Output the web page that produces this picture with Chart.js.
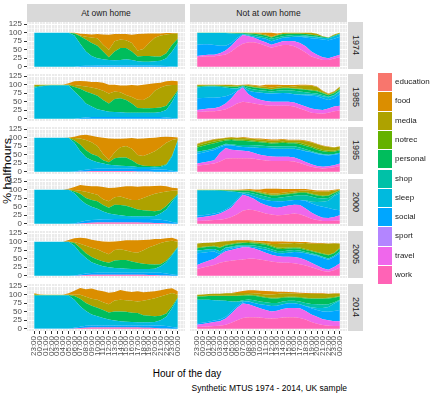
<!DOCTYPE html>
<html>
<head>
<meta charset="utf-8">
<script src="https://cdn.jsdelivr.net/npm/chart.js@4.4.0/dist/chart.umd.min.js"></script>
<style>
  body { margin: 0; background: #fff; }
  #wrap { position: relative; width: 430px; height: 393px; overflow: hidden;
          font-family: "Liberation Sans", Arial, sans-serif; color: #1A1A1A; background: #fff; }
  canvas { position: absolute; }
  .strip { position: absolute; background: #D9D9D9; font-size: 8.5px;
           display: flex; align-items: center; justify-content: center; }
  .vstrip { writing-mode: vertical-rl; font-size: 9px; }
  .key { position: absolute; left: 378px; width: 14px; }
  .keylab { position: absolute; left: 395px; font-size: 8px; line-height: 10px; }
  #ytitle { position: absolute; left: 8px; top: 171px; font-size: 12.5px;
            transform: translate(-50%, -50%) rotate(-90deg) scaleY(0.8); white-space: nowrap; color: #000; }
  #xtitle { position: absolute; left: 187px; top: 373px; font-size: 10px;
            transform: translate(-50%, -50%); white-space: nowrap; color: #000; }
  #caption { position: absolute; right: 83px; top: 383px; font-size: 8.5px; white-space: nowrap; color: #000; }
</style>
</head>
<body>
<div id="wrap">
  <div id="ytitle">% halfhours</div>
  <div id="xtitle">Hour of the day</div>
  <div id="caption">Synthetic MTUS 1974 - 2014, UK sample</div>
</div>
<script>
const categories = ['education', 'food', 'media', 'notrec', 'personal', 'shop', 'sleep', 'social', 'sport', 'travel', 'work'];
const colors = ['#F8766D', '#DB8E00', '#AEA200', '#64B200', '#00BD5C', '#00C1A7', '#00BADE', '#00A6FF', '#B385FF', '#EF67EB', '#FF63B6'];
const years = ['1974', '1985', '1995', '2000', '2005', '2014'];
const places = ['At own home', 'Not at own home'];
const hours = [0, 1, 2, 3, 4, 5, 6, 7, 8, 9, 10, 11, 12, 13, 14, 15, 16, 17, 18, 19, 20, 21, 22, 23, 24, 25];
const tickLabels = ['23:00', '00:00', '01:00', '02:00', '03:00', '04:00', '05:00', '06:00', '07:00', '08:00', '09:00',
  '10:00', '11:00', '12:00', '13:00', '14:00', '15:00', '16:00', '17:00', '18:00', '19:00', '20:00', '21:00',
  '22:00', '23:00', '00:00'];
const yTicks = [0, 25, 50, 75, 100, 125];

// at own home, one array per activity (hourly)
const home_1974 = {
  social:   [0,0,0,0,0,0,0,0,2,3,3,4,4,4,4,4,4,4,4,4,4,3,3,2,1,0],
  sleep:    [100,100,100,100,100,100,100,92,66,42,29,21,18,16,15,16,18,16,12,11,11,13,15,23,44,70],
  personal: [0,0,0,0,0,0,0,6,22,35,38,37,23,8,26,35,33,25,14,17,17,14,12,15,20,12],
  media:    [0,0,0,0,0,0,0,1,2,8,16,22,20,22,30,25,23,25,18,20,38,55,62,55,32,16],
  food:     [0,0,0,0,0,0,0,1,5,8,9,12,30,44,21,16,18,24,48,45,28,13,6,4,2,1]
};
const home_1985 = {
  social:   [0,0,0,0,0,0,0,0,2,4,5,5,5,5,5,5,5,5,5,5,5,5,5,4,2,1],
  sleep:    [91,95,97,98,98,98,98,80,62,41,31,23,19,16,15,14,13,13,13,13,13,13,15,22,48,79],
  personal: [3,2,1,1,1,1,1,13,24,35,38,40,31,24,38,41,37,27,14,13,13,14,13,12,10,4],
  media:    [6,3,2,1,1,1,1,6,9,15,18,20,27,29,22,18,15,19,24,24,34,50,59,60,39,15],
  food:     [0,0,0,0,0,0,4,11,14,15,16,20,24,26,20,20,28,35,42,45,37,22,14,12,13,11]
};
const home_1995 = {
  work:     [0,0,0,0,0,0,0,0,1,1,2,2,2,2,2,2,2,2,1,1,1,0,0,0,0,0],
  social:   [0,0,0,0,0,0,0,1,3,5,6,7,7,7,7,7,7,7,7,7,7,7,7,6,3,1],
  sleep:    [100,100,100,100,100,100,100,84,57,37,26,19,15,12,10,9,8,7,6,6,6,6,7,14,42,91],
  personal: [0,0,0,0,0,0,0,7,19,20,18,18,10,7,21,24,25,18,9,4,3,3,3,2,3,1],
  media:    [0,0,0,0,0,0,0,7,18,30,35,30,18,7,17,30,34,34,26,28,36,44,55,63,45,4],
  food:     [0,0,0,0,0,0,1,4,9,16,19,26,48,63,40,25,22,31,48,52,46,40,30,18,9,4]
};
const home_2000 = {
  work:     [0,0,0,0,0,0,0,0,1,2,3,4,4,4,4,4,4,4,4,3,3,2,2,1,0,0],
  social:   [0,0,0,0,0,0,0,1,4,7,8,8,9,9,10,10,10,10,10,11,11,11,10,9,5,2],
  sleep:    [100,100,100,100,100,100,100,89,66,49,39,32,23,17,13,11,9,8,8,8,8,10,18,32,60,83],
  personal: [0,0,0,0,0,0,0,5,17,18,20,22,19,17,29,30,30,26,20,18,16,14,10,10,5,3],
  media:    [0,0,0,0,0,0,0,4,9,18,20,19,17,19,22,25,22,22,28,36,44,51,52,43,27,10],
  food:     [0,0,0,0,0,0,3,9,17,18,20,25,36,39,28,28,35,40,39,34,28,23,20,15,9,6]
};
const home_2005 = {
  work:     [0,0,0,0,0,0,0,0,1,2,3,3,3,3,3,3,3,3,3,3,2,2,1,1,0,0],
  social:   [0,0,0,0,0,0,0,1,3,5,5,6,6,6,6,6,6,6,6,6,7,7,8,6,4,2],
  sleep:    [100,100,100,100,100,100,100,87,64,45,32,24,19,16,14,13,12,11,11,11,11,12,19,33,56,81],
  personal: [0,0,0,0,0,0,0,8,14,14,15,15,14,13,22,24,25,22,18,15,14,12,6,4,3,2],
  media:    [0,0,0,0,0,0,0,3,12,22,27,30,28,25,31,32,28,28,30,40,50,57,62,57,40,15],
  food:     [0,0,0,0,0,0,5,11,18,22,24,25,31,37,25,24,30,34,36,30,22,18,12,9,9,6]
};
const home_2014 = {
  work:     [0,0,0,0,0,0,0,1,2,3,4,4,4,4,4,4,4,4,4,3,3,2,1,1,0,0],
  social:   [1,1,1,1,1,1,1,2,4,6,6,6,6,6,6,6,6,6,6,7,7,8,9,7,5,3],
  sleep:    [96,97,97,97,97,97,97,82,60,43,32,27,22,17,14,12,11,10,9,9,9,10,15,27,55,87],
  personal: [2,1,1,1,1,1,1,11,22,24,26,25,23,21,27,29,29,27,27,21,19,17,13,10,6,2],
  media:    [3,1,1,1,1,1,1,4,12,18,20,23,23,24,32,34,34,35,34,42,48,53,57,55,39,8],
  food:     [2,1,0,0,0,0,4,12,20,22,30,28,32,34,25,29,26,26,30,25,23,20,18,17,14,10]
};

// not at own home
const away_1974 = {
  work:     [28,30,31,31,33,36,45,58,68,72,72,68,62,56,60,64,64,60,52,42,30,25,20,20,24,28],
  travel:   [4,4,4,4,7,12,17,22,25,18,13,10,10,9,10,11,12,15,18,18,15,10,8,5,6,7],
  social:   [33,32,31,29,22,14,8,5,2,2,3,7,10,10,10,10,11,13,18,26,39,47,52,53,52,53],
  sleep:    [34,33,33,35,37,37,28,12,2,0,0,0,0,0,0,0,0,0,1,3,4,5,5,6,8,8],
  shop:     [0,0,0,0,0,0,0,0,0,3,5,5,5,7,6,5,5,5,4,3,2,1,0,0,0,0],
  personal: [1,1,1,1,1,1,1,2,2,3,4,5,5,4,6,6,5,4,4,4,4,4,3,1,2,2],
  media:    [0,0,0,0,0,0,1,1,1,2,2,3,3,2,2,3,3,3,3,4,6,5,2,1,3,2],
  food:     [0,0,0,0,0,0,0,0,0,0,1,2,5,12,4,1,0,0,0,0,0,0,0,0,0,0]
};
const away_1985 = {
  work:     [20,21,22,22,24,28,35,45,50,48,45,42,40,38,38,38,38,36,30,24,18,16,15,18,22,24],
  travel:   [6,7,8,9,11,17,25,35,42,24,17,14,12,12,12,12,12,12,12,12,12,11,11,12,14,14],
  social:   [34,33,32,31,28,21,12,2,2,10,17,21,23,24,25,26,25,24,28,33,38,39,34,25,24,34],
  sleep:    [32,33,33,33,31,26,18,6,1,0,0,0,0,0,0,0,0,0,1,2,3,4,6,8,9,8],
  shop:     [0,0,0,0,0,0,0,2,1,8,7,7,7,6,7,8,9,10,9,7,5,4,4,2,1,2],
  personal: [3,2,2,2,2,3,4,4,2,5,6,6,6,6,6,6,6,6,7,7,7,7,5,4,5,5],
  notrec:   [1,1,1,1,1,1,1,1,0,1,1,1,1,1,1,1,1,1,2,2,2,2,2,1,2,2],
  media:    [3,2,1,1,2,3,4,3,1,3,4,4,5,5,5,5,5,6,8,10,12,10,4,3,3,5],
  food:     [1,1,1,1,1,1,1,1,1,2,2,2,6,8,6,3,3,4,3,3,2,2,1,1,1,1]
};
const away_1995 = {
  work:     [18,20,22,24,30,38,40,40,40,40,38,35,33,32,32,32,32,30,26,20,15,12,10,11,13,17],
  travel:   [6,7,8,10,25,32,25,23,22,20,17,15,14,13,12,12,12,12,10,9,7,5,5,5,6,7],
  social:   [29,29,30,30,17,8,13,12,11,12,16,20,23,24,24,24,24,26,29,31,35,35,34,32,31,29],
  sleep:    [6,6,5,5,4,3,1,0,0,0,0,0,0,0,0,0,0,0,0,1,1,2,2,2,2,3],
  shop:     [0,0,0,0,0,1,2,4,6,7,7,7,6,5,6,7,7,7,6,5,3,2,1,0,0,0],
  personal: [12,14,15,15,12,10,12,12,12,11,10,10,9,9,10,10,9,9,10,10,10,9,8,8,7,7],
  notrec:   [5,5,5,5,4,3,3,3,3,3,3,3,3,3,3,3,3,3,4,4,4,4,4,4,3,3],
  media:    [5,6,6,6,5,4,5,5,6,5,5,5,5,5,5,6,5,5,7,10,11,12,12,11,9,8],
  food:     [1,1,1,1,1,1,1,1,2,2,2,3,3,4,3,2,2,2,2,2,2,1,1,1,1,1]
};
const away_2000 = {
  work:     [8,9,10,11,12,15,20,28,38,42,40,35,30,27,25,26,28,30,28,22,15,11,8,8,9,10],
  travel:   [10,11,12,14,18,23,28,40,47,38,33,27,25,23,22,24,26,26,27,23,18,13,10,9,11,15],
  social:   [6,5,5,5,4,4,4,4,3,6,7,12,15,17,19,16,14,14,15,22,27,30,32,29,22,15],
  sleep:    [74,73,71,68,63,54,43,21,2,0,0,0,0,0,0,0,0,0,0,2,5,10,15,22,40,50],
  shop:     [0,0,0,0,0,0,0,0,2,6,8,10,10,9,10,12,12,12,14,15,15,12,9,8,3,5],
  personal: [1,1,1,1,2,2,3,4,5,5,6,6,6,7,7,7,7,7,7,7,7,7,7,6,5,3],
  notrec:   [0,0,0,0,0,0,0,1,1,1,1,2,2,2,2,2,2,2,2,2,2,2,2,2,2,1],
  media:    [1,1,1,1,1,1,1,1,1,2,2,3,3,4,4,4,4,4,4,5,7,9,11,11,6,2],
  food:     [0,0,0,0,0,1,1,1,2,2,4,6,12,14,14,11,9,7,5,4,4,4,4,3,2,1]
};
const away_2005 = {
  work:     [20,24,28,32,38,42,44,46,48,50,50,48,45,42,40,38,38,37,34,30,25,20,14,12,16,24],
  travel:   [12,14,16,18,24,30,32,34,36,34,30,26,23,20,18,18,18,18,18,16,13,10,8,6,10,13],
  social:   [34,30,26,21,2,4,4,4,2,2,4,6,9,10,9,10,12,15,17,20,24,28,30,29,29,29],
  sleep:    [8,8,8,8,8,6,4,2,1,0,0,0,0,0,0,0,0,0,0,0,1,2,3,4,4,5],
  shop:     [0,0,0,0,0,1,2,3,3,4,5,6,6,6,6,6,6,6,5,4,3,2,1,0,0,0],
  personal: [7,7,7,7,10,6,6,6,6,6,6,7,8,8,7,7,6,5,6,6,6,6,8,9,7,9],
  notrec:   [2,2,2,2,2,2,2,2,2,3,3,3,3,3,3,3,3,3,3,3,2,2,2,2,2,2],
  media:    [12,11,10,10,16,10,8,5,4,3,2,2,2,4,10,13,12,12,12,17,20,24,28,32,27,13],
  food:     [0,0,0,0,0,1,1,2,2,2,3,4,6,8,8,6,5,4,4,3,3,2,2,1,1,0]
};
const away_2014 = {
  work:     [5,6,7,8,9,12,18,25,32,34,34,33,31,30,31,33,34,34,32,27,20,15,11,9,8,8],
  travel:   [7,8,10,12,13,18,27,37,42,38,32,27,24,21,22,25,27,27,28,25,22,20,17,16,14,14],
  social:   [4,4,4,4,5,5,5,4,4,8,10,12,15,16,15,14,14,14,12,14,18,20,23,25,30,33],
  sleep:    [69,67,64,60,56,47,30,13,3,1,0,0,0,0,0,0,0,0,0,1,3,6,10,14,22,28],
  shop:     [0,0,0,0,0,0,0,1,3,5,8,8,8,9,8,8,7,7,8,9,10,11,10,8,4,2],
  personal: [10,10,11,12,13,14,16,16,13,12,13,14,13,13,13,11,10,10,11,13,15,16,17,17,13,10],
  notrec:   [1,1,1,1,1,1,1,1,2,2,2,2,2,2,2,2,2,2,2,2,2,2,2,2,2,1],
  media:    [4,5,5,6,6,7,7,8,6,5,5,7,8,10,11,11,10,9,10,11,13,12,12,11,10,7],
  food:     [0,0,0,0,0,0,1,3,6,8,9,9,10,9,7,5,4,4,3,3,2,2,2,1,1,1]
};

const panels = [
  [home_1974, away_1974],
  [home_1985, away_1985],
  [home_1995, away_1995],
  [home_2000, away_2000],
  [home_2005, away_2005],
  [home_2014, away_2014]
];

const rowTops = [22, 74, 127, 179, 231, 284];
const panelH = 47;
const colLeft = [27, 190];
const colWidth = [158, 157];
const wrap = document.getElementById('wrap');

// grey panel background like ggplot
const panelBg = {
  id: 'panelBg',
  beforeDraw(chart) {
    const a = chart.chartArea;
    chart.ctx.save();
    chart.ctx.fillStyle = '#EBEBEB';
    chart.ctx.fillRect(a.left, a.top, a.right - a.left, a.bottom - a.top);
    chart.ctx.restore();
  }
};

// major ticks every hour, minor grid every half hour
const xGrid = [];
for (let v = -1; v <= 26; v += 0.5) xGrid.push(v);
const yGrid = [];
for (let v = 0; v <= 125; v += 12.5) yGrid.push(v);

const isMajorX = v => Number.isInteger(v) && v >= 0 && v < tickLabels.length;
const isMajorY = v => yTicks.includes(v);

function buildDatasets(panel) {
  const ds = [];
  for (let i = categories.length - 1; i >= 0; i--) {
    const cat = categories[i];
    if (!panel[cat]) continue;
    ds.push({
      label: cat,
      data: panel[cat],
      backgroundColor: colors[i],
      borderColor: 'rgba(0,0,0,0)',
      borderWidth: 0,
      pointRadius: 0,
      tension: 0,
      fill: ds.length === 0 ? 'origin' : '-1'
    });
  }
  return ds;
}

function makePanel(row, col) {
  const isBottom = row === panels.length - 1;
  const isLeft = col === 0;
  const yAxisW = isLeft ? 27 : 0;
  const xAxisH = isBottom ? 30 : 0;
  const padTop = 6;
  const padBottom = isBottom ? 0 : 6;

  const canvas = document.createElement('canvas');
  const cw = colWidth[col] + yAxisW;
  const ch = panelH + padTop + padBottom + xAxisH;
  canvas.width = cw;
  canvas.height = ch;
  canvas.style.width = cw + 'px';
  canvas.style.height = ch + 'px';
  canvas.style.left = (colLeft[col] - yAxisW) + 'px';
  canvas.style.top = (rowTops[row] - padTop) + 'px';
  wrap.appendChild(canvas);

  new Chart(canvas.getContext('2d'), {
    type: 'line',
    data: { labels: hours, datasets: buildDatasets(panels[row][col]) },
    options: {
      responsive: false,
      animation: false,
      events: [],
      layout: { padding: { top: padTop, bottom: padBottom, left: 0, right: 0 } },
      plugins: { legend: { display: false }, tooltip: { enabled: false } },
      scales: {
        x: {
          type: 'linear',
          min: -1.25,
          max: 26.25,
          afterBuildTicks: s => { s.ticks = xGrid.map(v => ({ value: v })); },
          afterFit: s => { s.height = xAxisH; s.paddingLeft = 0; s.paddingRight = 0; },
          border: { display: false },
          grid: {
            color: '#FFFFFF',
            lineWidth: c => isMajorX(c.tick.value) ? 1 : 0.5,
            drawTicks: isBottom,
            tickLength: 3,
            tickWidth: 1,
            tickColor: c => isMajorX(c.tick.value) ? '#333333' : 'rgba(0,0,0,0)'
          },
          ticks: {
            display: isBottom,
            autoSkip: false,
            minRotation: 90,
            maxRotation: 90,
            padding: 2,
            color: '#4D4D4D',
            font: { family: 'Liberation Sans', size: 8 },
            callback: v => isMajorX(v) ? tickLabels[v] : ''
          }
        },
        y: {
          stacked: true,
          min: -6.5,
          max: 131.5,
          afterBuildTicks: s => { s.ticks = yGrid.map(v => ({ value: v })); },
          afterFit: s => { s.width = yAxisW; s.paddingTop = 0; s.paddingBottom = 0; },
          border: { display: false },
          grid: {
            color: '#FFFFFF',
            lineWidth: c => isMajorY(c.tick.value) ? 1 : 0.5,
            drawTicks: isLeft,
            tickLength: 3,
            tickWidth: 1,
            tickColor: c => isMajorY(c.tick.value) ? '#333333' : 'rgba(0,0,0,0)'
          },
          ticks: {
            display: isLeft,
            autoSkip: false,
            padding: 2,
            color: '#4D4D4D',
            font: { family: 'Liberation Sans', size: 8 },
            callback: v => isMajorY(v) ? String(v) : ''
          }
        }
      }
    },
    plugins: [panelBg]
  });
}

// facet strips
places.forEach((p, i) => {
  const d = document.createElement('div');
  d.className = 'strip';
  d.style.left = colLeft[i] + 'px';
  d.style.top = '4px';
  d.style.width = colWidth[i] + 'px';
  d.style.height = '18px';
  d.textContent = p;
  wrap.appendChild(d);
});
years.forEach((y, i) => {
  const d = document.createElement('div');
  d.className = 'strip vstrip';
  d.style.left = '348px';
  d.style.top = rowTops[i] + 'px';
  d.style.width = '15px';
  d.style.height = panelH + 'px';
  d.textContent = y;
  wrap.appendChild(d);
});

for (let r = 0; r < panels.length; r++) {
  makePanel(r, 0);
  makePanel(r, 1);
}

// legend
categories.forEach((cat, i) => {
  const top = 73 + i * 19.3;
  const k = document.createElement('div');
  k.className = 'key';
  k.style.top = top + 'px';
  k.style.height = '18.3px';
  k.style.background = colors[i];
  wrap.appendChild(k);
  const l = document.createElement('div');
  l.className = 'keylab';
  l.style.top = (top + 4) + 'px';
  l.textContent = cat;
  wrap.appendChild(l);
});
</script>
</body>
</html>
